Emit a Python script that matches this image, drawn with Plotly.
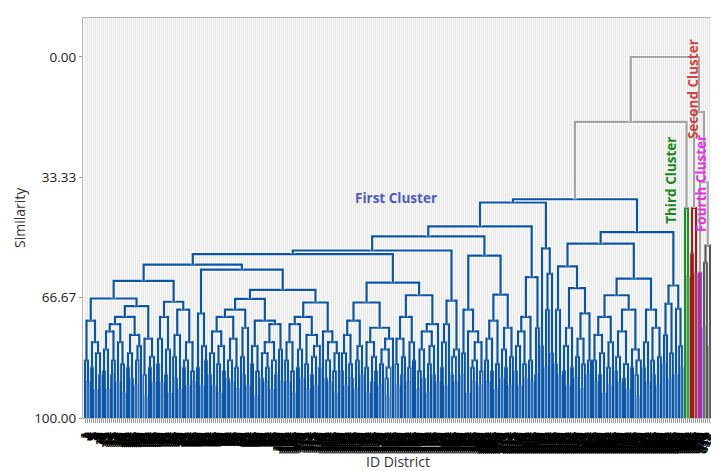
import plotly.graph_objects as go
from collections import defaultdict

# ---------------- data (similarity at which neighbouring leaves join) ----------------
first_cluster_links = [
    84, 90, 73, 86, 79, 92, 82, 88,
    66.9,
    87, 81, 92, 76, 88, 84, 74, 90, 79, 85, 93, 72, 86, 82, 89, 77, 91, 84, 80, 69,
    88, 94, 78, 86, 83, 90,
    62.0,
    85, 78, 90, 72, 88, 81, 93,
    67.8,
    83, 89, 77, 92, 70, 86, 84, 91, 79, 87, 90,
    57.5,
    86, 71, 91, 80, 84,
    58.9,
    88, 82, 91, 76, 85, 93, 80, 87, 72, 89, 84, 90, 78, 86, 92, 70, 83, 88, 75, 91,
    67, 85, 80, 94, 87, 73, 89, 82, 90, 86, 79, 92, 84, 88, 74, 81, 90,
    64.5,
    84, 90, 79, 87, 93, 74, 86, 81, 89, 72, 85, 92, 77, 88, 83, 91, 80, 86, 68, 76,
    89, 84, 90, 79, 87, 93, 82,
    54.6,
    87, 82, 91, 77, 85, 89, 73, 92, 84, 80, 88, 68, 86, 93, 79, 90, 83, 87, 75, 91,
    85, 81, 89, 94, 86, 78,
    62.5,
    85, 91, 78, 88, 83, 72, 90, 86, 79, 84, 66, 92, 87, 81, 89, 76, 93, 85, 80, 88, 74, 90,
    53.6,
    86, 79, 91, 74, 67.5, 88, 83, 90, 81,
    49.7,
    88, 82, 70, 93, 76, 86, 90, 84, 79, 91, 87,
    55.0,
    84, 90, 78, 87, 73, 92, 85, 65.8, 89, 81, 86, 75, 91, 83,
    46.9,
    87, 80, 91, 76, 85, 89, 72, 84, 90,
    61.0,
    88, 75,
    40.3,
    80,
    53.0,
    86, 70, 60, 82,
    39.4,
    85, 70, 88,
    58.0,
    87, 80, 91, 75, 86, 64, 89, 83, 78, 92, 85, 71, 88, 84,
    51.7,
    84, 90, 77, 88, 82, 93, 72, 86, 91, 79, 66, 87, 83, 90, 76, 89, 85, 92, 70, 86, 81, 88, 94, 84,
    61.4,
    86, 79, 90, 70, 84, 88, 75, 91, 83,
    48.5,
    85, 77, 68.3, 89, 82,
    63.3,
    88, 69.7, 80, 86,
]
third_cluster_links = [41.8, 61.0]
second_cluster_links = [54.4, 41.8, 60.0]
fourth_cluster_links = [59.6]
fifth_cluster_links = [74.9, 56.9, 52.2, 80.0]
# First|Third, Third|Second, Second|Fourth, Fourth|Fifth
between_cluster_links = [18.0, 0.0, 15.2, 34.7]

cluster_order = ["First Cluster", "Third Cluster", "Second Cluster", "Fourth Cluster", "Fifth Cluster"]
cluster_colors = ["#0b55a6", "#1f8f2b", "#a0181c", "#9d2ec2", "#575757"]
link_gray = "#a4a4a4"

y_tick_values = [0, 33.33, 66.67, 100]
y_tick_text = ["0.00", "33.33", "66.67", "100.00"]

label_text = ["First Cluster", "Second Cluster", "Third Cluster", "Fourth Cluster", "Fifth Cluster"]
label_colors = ["#4a59c6", "#d2453f", "#168a16", "#e236e2", "#555555"]

# ---------------- assemble leaves ----------------
cluster_links = [first_cluster_links, third_cluster_links, second_cluster_links,
                 fourth_cluster_links, fifth_cluster_links]
assert len(first_cluster_links) == 299, len(first_cluster_links)
all_links = []
leaf_cluster = []
for ci, cl in enumerate(cluster_links):
    leaf_cluster += [ci] * (len(cl) + 1)
    all_links += cl
    if ci < len(between_cluster_links):
        all_links.append(between_cluster_links[ci])
n_leaves = len(leaf_cluster)
district_ids = ["<b>%d</b>" % i for i in range(1, n_leaves + 1)]

links = []


def build(lo, hi):
    if lo == hi:
        return float(lo), 100.0
    k = min(range(lo, hi), key=lambda j: (all_links[j], j))
    xl, hl = build(lo, k)
    xr, hr = build(k + 1, hi)
    h = all_links[k]
    if leaf_cluster[lo] == leaf_cluster[hi]:
        col = cluster_colors[leaf_cluster[lo]]
    else:
        col = link_gray
    links.append((h, col, [xl, xl, xr, xr], [hl, h, h, hr]))
    return (xl + xr) / 2.0, h


build(0, n_leaves - 1)

batches = defaultdict(list)
for h, col, xs, ys in links:
    batches[(round(h), col)].append((xs, ys))

fig = go.Figure()
for key in sorted(batches.keys(), key=lambda k: -k[0]):
    bx, by = [], []
    for xs, ys in batches[key]:
        bx += xs + [None]
        by += ys + [None]
    fig.add_trace(go.Scatter(x=bx, y=by, mode="lines", hoverinfo="skip",
                             line=dict(color="rgba(255,255,255,0.55)", width=4.5)))
    fig.add_trace(go.Scatter(x=bx, y=by, mode="lines", hoverinfo="skip",
                             line=dict(color=key[1], width=2.2)))

# ---------------- labels ----------------
# (x, y, angle, xshift)
label_pos = [(155.5, 39.0, 0, 0), (304.0, 8.9, -90, 0), (293.0, 34.3, -90, 0),
             (308.0, 35.2, -90, 0), (313.5, 55.0, -90, 4)]
for txt, col, (lx, ly, ang, xs) in zip(label_text, label_colors, label_pos):
    fig.add_annotation(x=lx, y=ly, xref="x", yref="y", text="<b>%s</b>" % txt,
                       showarrow=False, textangle=ang, xanchor="center", yanchor="middle",
                       xshift=xs,
                       font=dict(size=13.5, color=col, family="Open Sans, Noto Sans, sans-serif"))

fig.add_annotation(x=-0.1016, y=0.5025, xref="paper", yref="paper", text="Similarity",
                   showarrow=False, textangle=-90, xanchor="center", yanchor="middle",
                   font=dict(size=14, color="#333333", family="Open Sans, sans-serif"))
fig.add_annotation(x=0.5, y=-0.1075, xref="paper", yref="paper", text="ID District",
                   showarrow=False, xanchor="center", yanchor="middle",
                   font=dict(size=14, color="#333333", family="Open Sans, sans-serif"))

# the page body adds an 8px offset, so the figure is sized to fill the window exactly
fig.update_layout(
    width=711, height=463,
    margin=dict(l=75, r=6, t=10, b=53),
    paper_bgcolor="white", plot_bgcolor="#fafafa",
    showlegend=False,
    font=dict(family="Open Sans, Noto Sans, sans-serif", color="#333333"),
    xaxis=dict(range=[-1, n_leaves], tickmode="array", tickvals=list(range(n_leaves)),
               ticktext=district_ids, tickangle=-65,
               tickfont=dict(size=13, color="black", family="Liberation Sans, Arial, sans-serif"),
               ticks="outside", ticklen=4, tickcolor="#9a9a9a",
               showgrid=True, gridcolor="#e6e6e6", gridwidth=1,
               zeroline=False, showline=True, linecolor="#b5b5b5", mirror=True,
               automargin=False),
    yaxis=dict(range=[100, -10.8], tickmode="array", tickvals=y_tick_values,
               ticktext=y_tick_text, ticks="outside", ticklen=3, tickcolor="#9a9a9a",
               tickfont=dict(size=13.5, color="#222222"),
               showgrid=True, gridcolor="#eeeeee",
               zeroline=False, showline=True, linecolor="#b5b5b5", mirror=True,
               automargin=False),
)

fig.write_html("out.html")
